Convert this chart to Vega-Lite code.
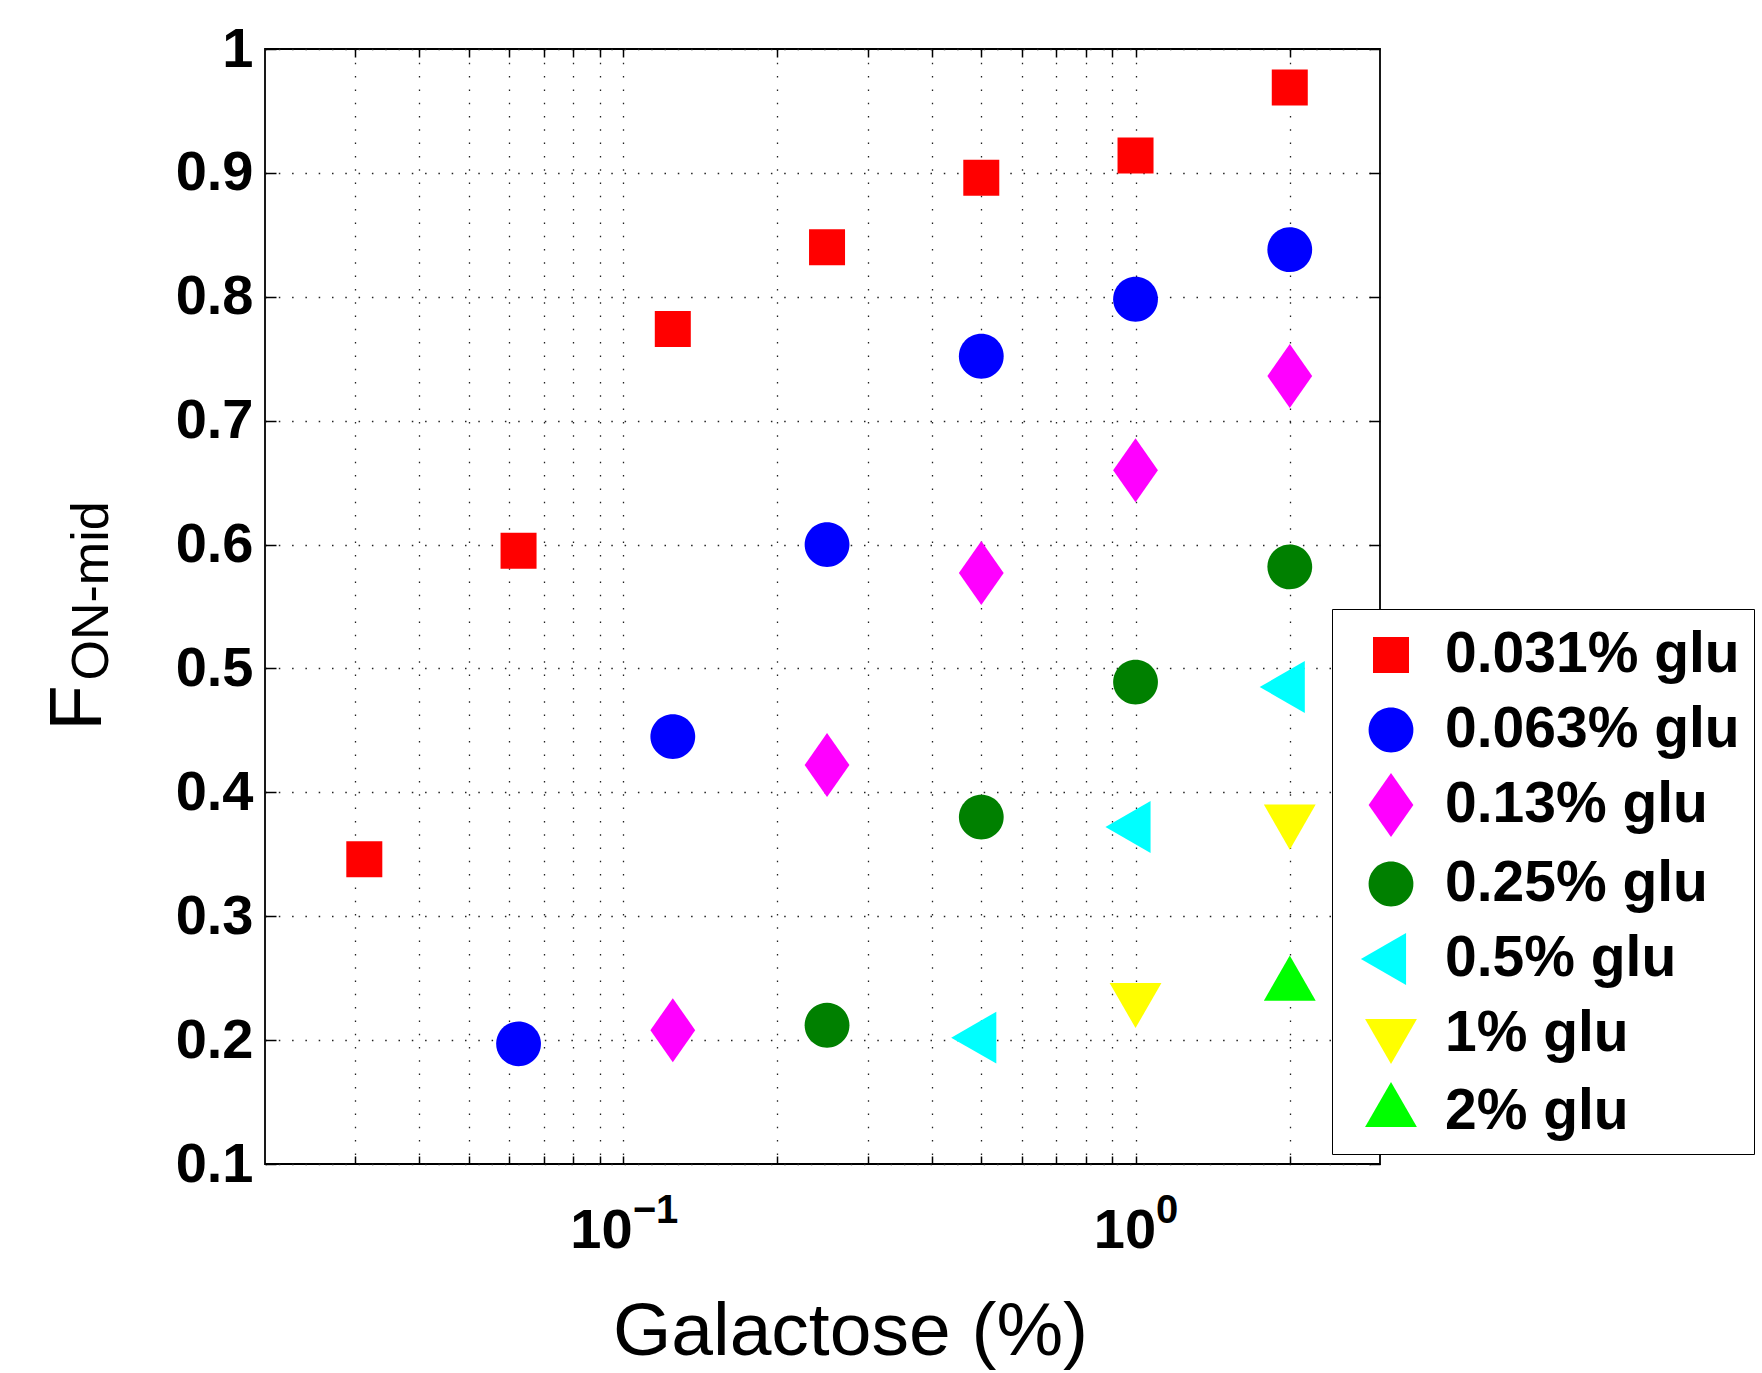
{
  "$schema": "https://vega.github.io/schema/vega-lite/v6.json",
  "autosize": {"type": "none"},
  "padding": {"left": 265, "top": 49, "right": 382, "bottom": 209},
  "width": 1115,
  "height": 1115,
  "background": "white",
  "config": {
    "view": {"stroke": "black", "strokeWidth": 1.8},
    "axis": {"labelFont": "Liberation Sans", "titleFont": "Liberation Sans", "labelColor": "black", "titleColor": "black"}
  },
  "data": {"values": [
    {"gal": 0.03125, "f": 0.346, "series": "0.031% glu"},
    {"gal": 0.0625, "f": 0.595, "series": "0.031% glu"},
    {"gal": 0.125, "f": 0.774, "series": "0.031% glu"},
    {"gal": 0.25, "f": 0.840, "series": "0.031% glu"},
    {"gal": 0.5, "f": 0.896, "series": "0.031% glu"},
    {"gal": 1, "f": 0.914, "series": "0.031% glu"},
    {"gal": 2, "f": 0.969, "series": "0.031% glu"},
    {"gal": 0.0625, "f": 0.197, "series": "0.063% glu"},
    {"gal": 0.125, "f": 0.445, "series": "0.063% glu"},
    {"gal": 0.25, "f": 0.600, "series": "0.063% glu"},
    {"gal": 0.5, "f": 0.752, "series": "0.063% glu"},
    {"gal": 1, "f": 0.798, "series": "0.063% glu"},
    {"gal": 2, "f": 0.838, "series": "0.063% glu"},
    {"gal": 0.125, "f": 0.208, "series": "0.13% glu"},
    {"gal": 0.25, "f": 0.422, "series": "0.13% glu"},
    {"gal": 0.5, "f": 0.577, "series": "0.13% glu"},
    {"gal": 1, "f": 0.660, "series": "0.13% glu"},
    {"gal": 2, "f": 0.736, "series": "0.13% glu"},
    {"gal": 0.25, "f": 0.212, "series": "0.25% glu"},
    {"gal": 0.5, "f": 0.380, "series": "0.25% glu"},
    {"gal": 1, "f": 0.489, "series": "0.25% glu"},
    {"gal": 2, "f": 0.582, "series": "0.25% glu"},
    {"gal": 0.5, "f": 0.202, "series": "0.5% glu"},
    {"gal": 1, "f": 0.372, "series": "0.5% glu"},
    {"gal": 2, "f": 0.485, "series": "0.5% glu"},
    {"gal": 1, "f": 0.234, "series": "1% glu"},
    {"gal": 2, "f": 0.378, "series": "1% glu"},
    {"gal": 2, "f": 0.244, "series": "2% glu"}
  ]},
  "layer": [
    {
      "mark": {"type": "point", "filled": true, "opacity": 1, "size": 4096, "strokeWidth": 0},
      "encoding": {
        "x": {
          "field": "gal", "type": "quantitative",
          "scale": {"type": "log", "domain": [0.02, 3], "nice": false},
          "axis": {
            "title": "Galactose (%)", "titleFontSize": 75, "titleFontWeight": "normal",
            "titleX": 585, "titleY": 190, "titleBaseline": "alphabetic", "titleAlign": "center",
            "values": [0.03, 0.04, 0.05, 0.06, 0.07, 0.08, 0.09, 0.1, 0.2, 0.3, 0.4, 0.5, 0.6, 0.7, 0.8, 0.9, 1, 2],
            "labelExpr": "(datum.value == 0.1 || datum.value == 1) ? '10' : ''",
            "labelFontSize": 56, "labelFontWeight": "bold", "labelBaseline": "alphabetic", "labelAlign": "right",
            "labelOffset": {"condition": {"test": "datum.value == 1", "value": 20}, "value": 9},
            "labelPadding": 91, "labelOverlap": false, "labelFlush": false, "labelBound": false,
            "tickSize": -8, "tickColor": "black", "tickWidth": 1.5,
            "domain": false,
            "grid": true, "gridDash": [1.5, 11.8], "gridColor": "#222222", "gridWidth": 1.3, "gridOpacity": 1
          }
        },
        "y": {
          "field": "f", "type": "quantitative",
          "scale": {"domain": [0.1, 1], "nice": false, "zero": false},
          "axis": {
            "title": "F", "titleFontSize": 74, "titleFontWeight": "normal",
            "titleAngle": 270, "titleX": -165, "titleY": 681, "titleAlign": "left", "titleBaseline": "alphabetic",
            "values": [0.1, 0.2, 0.3, 0.4, 0.5, 0.6, 0.7, 0.8, 0.9, 1],
            "format": "~g",
            "labelFontSize": 56, "labelFontWeight": "bold", "labelPadding": 23,
            "labelOverlap": false, "labelFlush": false, "labelBound": false,
            "tickSize": -11, "tickColor": "black", "tickWidth": 1.5,
            "domain": false,
            "grid": true, "gridDash": [1.5, 11.8], "gridColor": "#222222", "gridWidth": 1.3, "gridOpacity": 1
          }
        },
        "color": {
          "field": "series", "type": "nominal",
          "scale": {
            "domain": ["0.031% glu", "0.063% glu", "0.13% glu", "0.25% glu", "0.5% glu", "1% glu", "2% glu"],
            "range": ["#ff0000", "#0000ff", "#ff00ff", "#008000", "#00ffff", "#ffff00", "#00ff00"]
          },
          "legend": {
            "title": null, "orient": "none", "legendX": 1067, "legendY": 560,
            "padding": 14, "symbolOffset": 13, "labelOffset": 22, "rowPadding": 15,
            "labelFont": "Liberation Sans", "labelFontSize": 57, "labelFontWeight": "bold", "labelColor": "black", "labelLimit": 0,
            "strokeColor": "black", "fillColor": "white",
            "symbolSize": 4096, "symbolStrokeWidth": 0, "symbolOpacity": 1
          }
        },
        "shape": {
          "field": "series", "type": "nominal",
          "scale": {
            "domain": ["0.031% glu", "0.063% glu", "0.13% glu", "0.25% glu", "0.5% glu", "1% glu", "2% glu"],
            "range": [
              "M-0.5625,-0.5625L0.5625,-0.5625L0.5625,0.5625L-0.5625,0.5625Z",
              "M-0.7,0A0.7,0.7,0,1,1,0.7,0A0.7,0.7,0,1,1,-0.7,0Z",
              "M0,-1L0.7,0L0,1L-0.7,0Z",
              "M-0.7,0A0.7,0.7,0,1,1,0.7,0A0.7,0.7,0,1,1,-0.7,0Z",
              "M-0.94,0L0.47,-0.81L0.47,0.81Z",
              "M0,0.94L-0.81,-0.47L0.81,-0.47Z",
              "M0,-0.94L-0.81,0.47L0.81,0.47Z"
            ]
          },
          "legend": {
            "title": null, "orient": "none", "legendX": 1067, "legendY": 560,
            "padding": 14, "symbolOffset": 13, "labelOffset": 22, "rowPadding": 15,
            "labelFont": "Liberation Sans", "labelFontSize": 57, "labelFontWeight": "bold", "labelColor": "black", "labelLimit": 0,
            "strokeColor": "black", "fillColor": "white",
            "symbolSize": 4096, "symbolStrokeWidth": 0, "symbolOpacity": 1
          }
        }
      }
    },
    {
      "mark": {"type": "point", "opacity": 0},
      "encoding": {
        "x": {
          "field": "gal", "type": "quantitative",
          "axis": {
            "orient": "bottom", "title": null,
            "values": [0.1, 1],
            "labelExpr": "datum.value == 0.1 ? '−1' : '0'",
            "labelFontSize": 40, "labelFontWeight": "bold", "labelBaseline": "alphabetic", "labelAlign": "left",
            "labelOffset": {"condition": {"test": "datum.value == 1", "value": 20}, "value": 9},
            "labelPadding": 58, "labelOverlap": false, "labelFlush": false, "labelBound": false,
            "ticks": false, "domain": false, "grid": false
          }
        },
        "y": {
          "field": "f", "type": "quantitative",
          "axis": {
            "orient": "left", "title": "ON-mid", "titleFontSize": 52, "titleFontWeight": "normal",
            "titleAngle": 270, "titleX": -158, "titleY": 631, "titleAlign": "left", "titleBaseline": "alphabetic",
            "labels": false, "ticks": false, "domain": false, "grid": false
          }
        }
      }
    },
    {
      "mark": {"type": "point", "opacity": 0},
      "encoding": {
        "x": {
          "field": "gal", "type": "quantitative",
          "axis": {
            "orient": "top", "title": null, "labels": false, "domain": false, "grid": false,
            "values": [0.03, 0.04, 0.05, 0.06, 0.07, 0.08, 0.09, 0.1, 0.2, 0.3, 0.4, 0.5, 0.6, 0.7, 0.8, 0.9, 1, 2],
            "tickSize": -8, "tickColor": "black", "tickWidth": 1.5
          }
        },
        "y": {
          "field": "f", "type": "quantitative",
          "axis": {
            "orient": "right", "title": null, "labels": false, "domain": false, "grid": false,
            "values": [0.1, 0.2, 0.3, 0.4, 0.5, 0.6, 0.7, 0.8, 0.9, 1],
            "tickSize": -11, "tickColor": "black", "tickWidth": 1.5
          }
        }
      }
    }
  ],
  "resolve": {"axis": {"x": "independent", "y": "independent"}}
}
